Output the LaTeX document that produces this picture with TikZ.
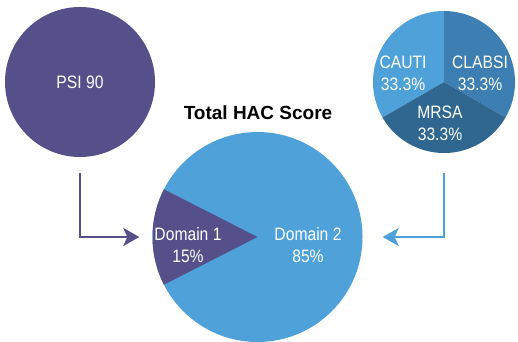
\documentclass[tikz,border=0pt]{standalone}
\usepackage{fontspec}
\setmainfont{Liberation Sans}[FakeStretch=0.87]
\newfontfamily\titlefont{Liberation Sans}
\usetikzlibrary{arrows.meta,positioning}
\definecolor{hacpurple}{HTML}{55508A}
\definecolor{haclight}{HTML}{4FA1DA}
\definecolor{hacmid}{HTML}{3D7FB2}
\definecolor{hacdark}{HTML}{2F6791}

\begin{document}
\begin{tikzpicture}[
  x=1pt, y=1pt,
  every node/.style = {font=\fontsize{18}{22}\selectfont, text=white, align=center},
  pie/.style = {circle, inner sep=0pt, draw=none},
  arr/.style = {-{Stealth[length=16pt,width=18pt,inset=4pt]}, line width=2pt}
]
\useasboundingbox (0,0) rectangle (518,341);

% left circle
\node[pie, fill=hacpurple, minimum size=150pt] (psi) at (80,259) {PSI 90};

% right pie, three equal slices
\node[pie, minimum size=142pt] (hai) at (444,259) {};
\fill[haclight] (hai.center) -- ++(90:71)  arc (90:210:71)  -- cycle;
\fill[hacmid]   (hai.center) -- ++(-30:71) arc (-30:90:71)  -- cycle;
\fill[hacdark]  (hai.center) -- ++(210:71) arc (210:330:71) -- cycle;
\node (cauti)  at (403,268) {CAUTI\\33.3\%};
\node (clabsi) at (480,268) {CLABSI\\33.3\%};
\node (mrsa)   at (440,218) {MRSA\\33.3\%};

% total score pie
\node[text=black, font=\titlefont\bfseries\fontsize{19}{22}\selectfont] (title) at (258,228) {Total HAC Score};
\node[pie, fill=haclight, minimum size=210pt] (hac) at (257.5,104) {};
\fill[hacpurple] (hac.center) -- ++(153:105) arc (153:207:105) -- cycle;
\node (dom1) at (188,96) {Domain 1\\15\%};
\node (dom2) at (308,96) {Domain 2\\85\%};

% connectors
\draw[arr, hacpurple, shorten <=16pt, shorten >=13pt] (psi) |- (hac);
\draw[arr, haclight,  shorten <=20pt, shorten >=20pt] (hai) |- (hac);
\end{tikzpicture}
\end{document}
